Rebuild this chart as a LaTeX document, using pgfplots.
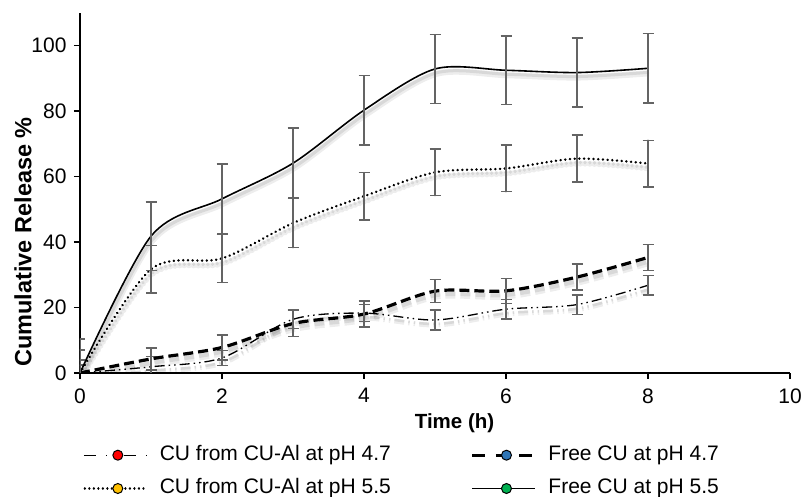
\documentclass[border=0pt]{standalone}
\usepackage{fontspec}
\setmainfont{Liberation Sans}
\usepackage{pgfplots}
\pgfplotsset{compat=1.18}
\usepackage{pgfplotstable}

\definecolor{errgray}{RGB}{100,100,100}
\definecolor{mkred}{RGB}{255,0,0}
\definecolor{mkblue}{RGB}{46,117,182}
\definecolor{mkgold}{RGB}{255,192,0}
\definecolor{mkgreen}{RGB}{0,176,80}

% CU from CU-Al at pH 4.7
\pgfplotstableread{
x y e
0 0 2.5
1 1.9 3.1
2 4.6 2.3
3 16.4 2.8
4 18.3 2.6
5 16.2 3.1
6 19.5 3.0
7 20.9 3.0
8 26.8 3.0
}\dataA
% Free CU at pH 4.7
\pgfplotstableread{
x y e
0 0 4.0
1 4.3 3.4
2 7.8 3.8
3 15.1 4.0
4 18.0 4.0
5 25.0 3.5
6 25.1 3.8
7 29.3 4.0
8 35.3 4.0
}\dataB
% CU from CU-Al at pH 5.5
\pgfplotstableread{
x y e
0 0 7.0
1 31.7 7.2
2 35.0 7.3
3 45.8 7.5
4 54.0 7.2
5 61.3 7.1
6 62.5 7.1
7 65.5 7.2
8 64.0 7.1
}\dataC
% Free CU at pH 5.5
\pgfplotstableread{
x y e
0 0 10.4
1 41.8 10.5
2 53.2 10.6
3 64.1 10.7
4 80.3 10.6
5 92.9 10.6
6 92.5 10.4
7 91.8 10.6
8 93.1 10.6
}\dataD

\tikzset{
  ddot/.style={line width=1.3pt, dash pattern=on 10pt off 4pt on 1.5pt off 4pt on 1.5pt off 4pt},
  dsh/.style={line width=3.2pt, dash pattern=on 10pt off 5pt},
  dtt/.style={line width=2.7pt, line cap=round, dash pattern=on 0.01pt off 4.7pt},
  sld/.style={line width=1.6pt},
  shadowA/.style={black, opacity=0.07, yshift=-5pt, xshift=1pt},
  shadowB/.style={black, opacity=0.09, yshift=-4pt, xshift=1pt},
}
\pgfplotsset{
  witherr/.style={
    error bars/y dir=both, error bars/y explicit,
    error bars/error bar style={solid, line width=1.5pt, errgray, opacity=1},
    error bars/error mark options={solid, rotate=90, mark size=5.5pt, line width=1.5pt, errgray, opacity=1},
  },
}

\begin{document}
\begin{tikzpicture}
\useasboundingbox (-80pt,-124pt) rectangle (723pt,373pt);
\begin{axis}[
  at={(0pt,0pt)}, anchor=south west,
  scale only axis, width=710pt, height=360pt,
  xmin=0, xmax=10, ymin=0, ymax=110,
  axis x line*=bottom, axis y line*=left,
  axis line style={line width=1.5pt, black},
  xtick={0,2,...,10}, ytick={0,20,...,100},
  tick align=outside, major tick length=6pt,
  tick style={line width=1.5pt, black},
  font=\fontsize{21}{25}\selectfont,
  /pgf/number format/assume math mode=true,
  xticklabel style={yshift=-6pt},
  yticklabel style={xshift=-4pt},
  xlabel={Time (h)},
  ylabel={Cumulative Release \%},
  xlabel style={at={(axis description cs:0.5275,-0.139)}, anchor=center, font=\fontsize{20.5}{24}\selectfont\bfseries},
  ylabel style={at={(axis description cs:-0.0803,0.364)}, anchor=center, font=\fontsize{23.5}{28}\selectfont\bfseries},
  legend columns=2,
  legend cell align=left,
  legend style={at={(axis description cs:0.0042,-0.2)}, anchor=north west, draw=none, fill=none,
    inner sep=0pt, row sep=13.3pt,
    nodes={inner xsep=0pt, inner ysep=0pt, text height=15pt, text depth=5pt},
    /tikz/every even column/.append style={column sep=80pt}},
]
% shadows
\addplot[shadowA, smooth, tension=0.5, ddot, line width=5pt, forget plot] table[x=x,y=y] {\dataA};
\addplot[shadowB, smooth, tension=0.5, ddot, line width=2.5pt, forget plot] table[x=x,y=y] {\dataA};
\addplot[shadowA, smooth, tension=0.5, dsh, line width=7pt, forget plot] table[x=x,y=y] {\dataB};
\addplot[shadowB, smooth, tension=0.5, dsh, line width=4pt, forget plot] table[x=x,y=y] {\dataB};
\addplot[shadowA, smooth, tension=0.5, dtt, line width=6pt, forget plot] table[x=x,y=y] {\dataC};
\addplot[shadowB, smooth, tension=0.5, dtt, line width=3.5pt, forget plot] table[x=x,y=y] {\dataC};
\addplot[shadowA, smooth, tension=0.5, sld, line width=6pt, forget plot] table[x=x,y=y] {\dataD};
\addplot[shadowB, smooth, tension=0.5, sld, line width=3pt, forget plot] table[x=x,y=y] {\dataD};
% series
\addplot[black, smooth, tension=0.5, ddot, no markers, forget plot, witherr] table[x=x,y=y,y error=e] {\dataA};
\addplot[black, smooth, tension=0.5, dsh, no markers, forget plot, witherr] table[x=x,y=y,y error=e] {\dataB};
\addplot[black, smooth, tension=0.5, dtt, no markers, forget plot, witherr] table[x=x,y=y,y error=e] {\dataC};
\addplot[black, smooth, tension=0.5, sld, no markers, forget plot, witherr] table[x=x,y=y,y error=e] {\dataD};
% legend
\addlegendimage{legend image code/.code={
  \path[draw=none, fill=none] (0pt,0pt) rectangle (76pt,0.1pt);
  \draw[black, line width=1.3pt, dash pattern=on 12pt off 10pt on 1.5pt off 7pt on 1.5pt off 8pt] (0pt,0pt) -- (63pt,0pt);
  \draw[black, solid, line width=1pt, fill=mkred] (34pt,0pt) circle (5pt);}}
\addlegendentry{CU from CU-Al at pH 4.7}
\addlegendimage{legend image code/.code={
  \path[draw=none, fill=none] (0pt,0pt) rectangle (76pt,0.1pt);
  \draw[black, line width=3.2pt, dash pattern=on 13pt off 10.5pt] (0pt,0pt) -- (63pt,0pt);
  \draw[black, solid, line width=1pt, fill=mkblue] (34pt,0pt) circle (5pt);}}
\addlegendentry{Free CU at pH 4.7}
\addlegendimage{legend image code/.code={
  \path[draw=none, fill=none] (0pt,0pt) rectangle (76pt,0.1pt);
  \draw[black, line width=2.4pt, line cap=round, dash pattern=on 0.01pt off 4.5pt] (1pt,0pt) -- (63pt,0pt);
  \draw[black, solid, line width=1pt, fill=mkgold] (34pt,0pt) circle (5pt);}}
\addlegendentry{CU from CU-Al at pH 5.5}
\addlegendimage{legend image code/.code={
  \path[draw=none, fill=none] (0pt,0pt) rectangle (76pt,0.1pt);
  \draw[black, sld] (0pt,0pt) -- (63pt,0pt);
  \draw[black, solid, line width=1pt, fill=mkgreen] (34pt,0pt) circle (5pt);}}
\addlegendentry{Free CU at pH 5.5}
\end{axis}
\end{tikzpicture}
\end{document}
